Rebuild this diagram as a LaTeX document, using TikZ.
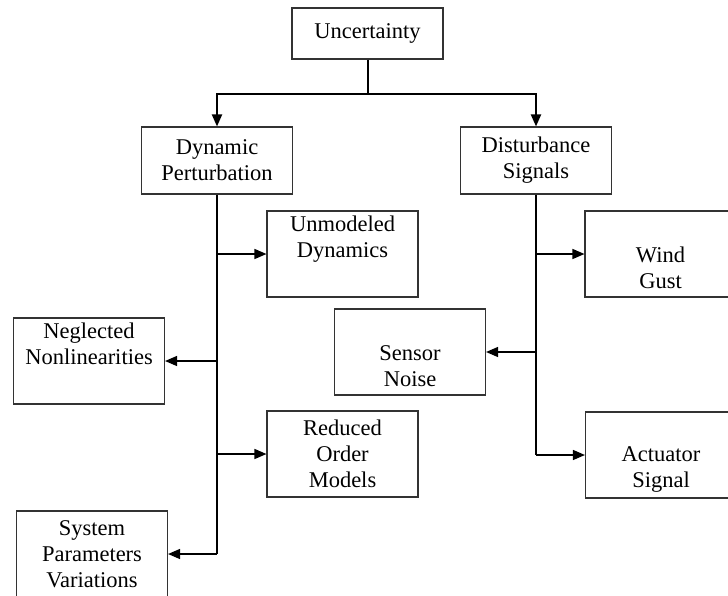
\documentclass[tikz,border=0pt]{standalone}
\usepackage{fontspec}
\setmainfont{Liberation Serif}
\usetikzlibrary{arrows.meta}

\begin{document}
\begin{tikzpicture}[x=1pt, y=-1pt,
    box/.style={draw=black!80, line width=1.1pt, align=center, inner sep=0pt,
        minimum width=151pt, minimum height=86pt,
        font=\fontsize{22.5}{26}\selectfont},
    bus/.style={line width=2pt},
    tip/.style={-{Triangle[length=12pt,width=10pt]}},
    feed/.style={line width=1.4pt, tip}]
        \useasboundingbox (0,0) rectangle (728,595);

        % Root and first level
        \node[box, minimum height=51pt] (unc)  at (367.5,33.5)  {Uncertainty};
        \node[box, minimum height=67pt] (dyn)  at (217,160.5)   {Dynamic\\Perturbation};
        \node[box, minimum height=67pt] (dist) at (536,160.5)   {Disturbance\\Signals};

        % Dynamic perturbation branch
        \node[box] (unm)  at (342.5,254) {Unmodeled\\Dynamics\\\strut};
        \node[box] (negl) at (89,361)    {Neglected\\Nonlinearities\\\strut};
        \node[box] (red)  at (342.5,454) {Reduced\\Order\\Models};
        \node[box] (sys)  at (92,554)    {System\\Parameters\\Variations};

        % Disturbance signals branch
        \node[box] (wind) at (660.5,254) {\strut\\Wind\\Gust};
        \node[box] (sens) at (410,352)   {\strut\\Sensor\\Noise};
        \node[box] (act)  at (661,455)   {\strut\\Actuator\\Signal};

        % Root splits in two
        \draw[bus] (unc.south) -- ++(0,34) coordinate (split);
        \draw[bus, tip] (split) -| (dyn.north);
        \draw[bus, tip] (split) -| (dist.north);

        % Trunks
        \draw[bus] (dyn.south) -- (dyn.south |- sys.east);
        \draw[bus] (dist.south) -- (dist.south |- act.west);

        \draw[feed] (dyn.south |- unm.west)  -- (unm.west);
        \draw[feed] (dyn.south |- negl.east) -- (negl.east);
        \draw[feed] (dyn.south |- red.west)  -- (red.west);
        \draw[feed] (dyn.south |- sys.east)  -- (sys.east);

        \draw[feed] (dist.south |- wind.west) -- (wind.west);
        \draw[feed] (dist.south |- sens.east) -- (sens.east);
        \draw[feed] (dist.south |- act.west)  -- (act.west);
\end{tikzpicture}
\end{document}
